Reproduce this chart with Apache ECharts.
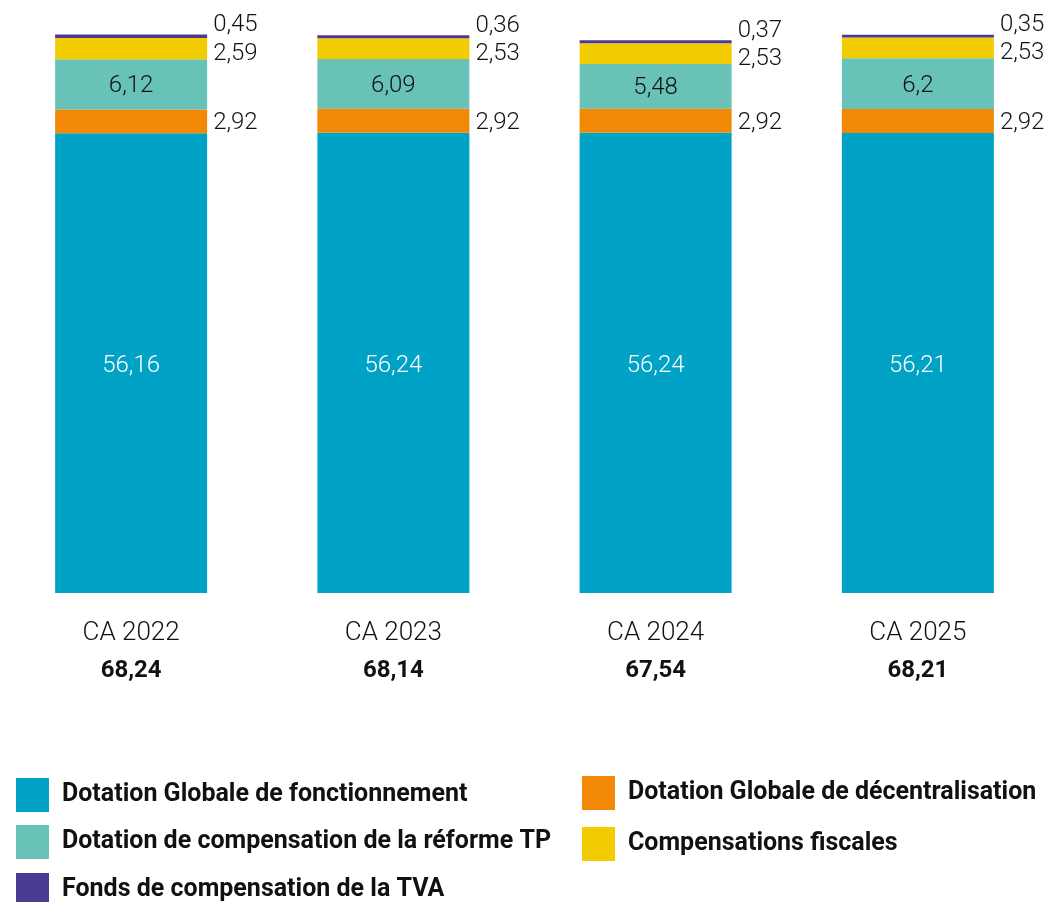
<!DOCTYPE html>
<html>
<head>
<meta charset="utf-8">
<script src="https://cdn.jsdelivr.net/npm/echarts@6/dist/echarts.min.js"></script>
<style>
  html, body { margin: 0; padding: 0; background: #fff; }
  #chart { width: 1051px; height: 902px; }
</style>
</head>
<body>
<div id="chart"></div>
<script>
// data
const categories = ['CA 2022', 'CA 2023', 'CA 2024', 'CA 2025'];
const dgf = [56.16, 56.24, 56.24, 56.21];      // Dotation Globale de fonctionnement
const dgd = [2.92, 2.92, 2.92, 2.92];          // Dotation Globale de décentralisation
const dcrtp = [6.12, 6.09, 5.48, 6.2];         // Dotation de compensation de la réforme TP
const compFisc = [2.59, 2.53, 2.53, 2.53];     // Compensations fiscales
const fctva = [0.45, 0.36, 0.37, 0.35];        // Fonds de compensation de la TVA
const totals = ['68,24', '68,14', '67,54', '68,21'];

const names = [
  'Dotation Globale de fonctionnement',
  'Dotation Globale de décentralisation',
  'Dotation de compensation de la réforme TP',
  'Compensations fiscales',
  'Fonds de compensation de la TVA'
];
const colors = ['#00a2c6', '#f18806', '#68c2b8', '#f2cc00', '#4a3a92'];

const fmt = v => String(v).replace('.', ',');
const FONT = 'Roboto';

function lbl(extra) {
  return Object.assign({
    show: true,
    fontFamily: FONT,
    fontWeight: 300,
    fontSize: 24,
    color: '#111',
    formatter: p => fmt(p.value)
  }, extra);
}

// one legend per item so the 2-column layout stays put
function legendItem(name, left, top) {
  return {
    data: [name],
    left: left, top: top,
    padding: 0,
    itemWidth: 33, itemHeight: 34,
    icon: 'rect',
    textStyle: { fontFamily: FONT, fontWeight: 'bold', fontSize: 25, color: '#111', padding: [2, 0, 0, 8] }
  };
}

const chart = echarts.init(document.getElementById('chart'));

chart.setOption({
  animation: false,
  grid: { left: 0, top: 20, width: 1049, height: 573 },
  xAxis: {
    type: 'category',
    data: categories,
    axisLine: { show: false },
    axisTick: { show: false },
    axisLabel: {
      margin: 22,
      formatter: (v, i) => '{a|' + v + '}\n{b|' + totals[i] + '}',
      rich: {
        a: { fontFamily: FONT, fontWeight: 300, fontSize: 26, color: '#111', lineHeight: 36 },
        b: { fontFamily: FONT, fontWeight: 'bold', fontSize: 24, color: '#111', lineHeight: 40 }
      }
    }
  },
  yAxis: { type: 'value', min: 0, max: 70, show: false, splitLine: { show: false } },
  legend: [
    legendItem(names[0], 16, 778),
    legendItem(names[2], 16, 825),
    legendItem(names[4], 16, 873),
    legendItem(names[1], 582, 776),
    legendItem(names[3], 582, 827)
  ],
  series: [
    {
      name: names[0], type: 'bar', stack: 't', data: dgf, barWidth: 152,
      itemStyle: { color: colors[0] },
      label: lbl({ position: 'inside', color: '#fff', offset: [0, 3] })
    },
    {
      name: names[1], type: 'bar', stack: 't', data: dgd, barWidth: 152,
      itemStyle: { color: colors[1] },
      label: lbl({ position: 'right', distance: 6, offset: [0, 2] })
    },
    {
      name: names[2], type: 'bar', stack: 't', data: dcrtp, barWidth: 152,
      itemStyle: { color: colors[2] },
      label: lbl({ position: 'inside', offset: [0, 2] })
    },
    {
      name: names[3], type: 'bar', stack: 't', data: compFisc, barWidth: 152,
      itemStyle: { color: colors[3] },
      label: lbl({ position: 'right', distance: 6, offset: [0, 5] })
    },
    {
      name: names[4], type: 'bar', stack: 't', data: fctva, barWidth: 152,
      itemStyle: { color: colors[4] },
      label: lbl({ position: 'right', distance: 6, offset: [0, -11] })
    }
  ]
});
</script>
</body>
</html>
